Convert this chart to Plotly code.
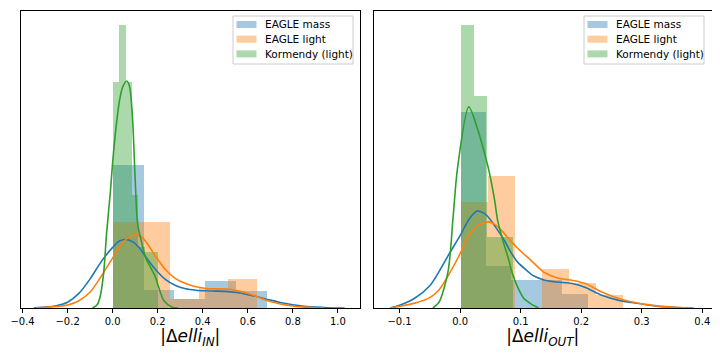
import numpy as np
import plotly.graph_objects as go
from plotly.subplots import make_subplots

# ---- histogram data (density) ----
# left panel: |delta elli_IN|
in_mass_edges = [0.0, 0.137, 0.274, 0.411, 0.548, 0.685]
in_mass_dens = [4.90, 0.61, 0.31, 0.92, 0.60]
in_light_edges = [0.0, 0.128, 0.256, 0.385, 0.513, 0.641]
in_light_dens = [2.96, 2.96, 0.31, 0.67, 0.98]
in_korm_edges = [0.0, 0.0286, 0.0571, 0.0857, 0.1143, 0.1429, 0.1714, 0.2]
in_korm_dens = [7.77, 9.71, 7.77, 3.87, 2.10, 1.92, 1.92]

# right panel: |delta elli_OUT|
out_mass_edges = [0.0, 0.042, 0.084, 0.126, 0.168, 0.21]
out_mass_dens = [14.1, 3.0, 1.99, 1.99, 1.04]
out_light_edges = [0.0, 0.0448, 0.0896, 0.134, 0.179, 0.224, 0.268]
out_light_dens = [7.63, 9.50, 0.0, 2.78, 1.83, 0.91]
out_korm_edges = [0.0, 0.0218, 0.0436, 0.0654, 0.0872]
out_korm_dens = [20.34, 15.23, 5.11, 5.11]

# ---- KDE curves ----
in_mass_kde_x = [-0.35, -0.3, -0.25, -0.2, -0.15, -0.1, -0.05, 0.0, 0.03, 0.06, 0.09, 0.12,
                 0.15, 0.19, 0.234, 0.279, 0.324, 0.37, 0.41, 0.45, 0.5, 0.55, 0.6, 0.65,
                 0.7, 0.75, 0.8, 0.85, 0.9, 0.95, 1.03]
in_mass_kde_y = [0.0, 0.03, 0.08, 0.2, 0.5, 1.0, 1.6, 2.08, 2.3, 2.35, 2.27, 2.05,
                 1.72, 1.32, 0.98, 0.77, 0.66, 0.61, 0.59, 0.58, 0.57, 0.53, 0.46, 0.37,
                 0.27, 0.18, 0.11, 0.06, 0.03, 0.01, 0.0]
in_light_kde_x = [-0.34, -0.3, -0.25, -0.2, -0.15, -0.1, -0.05, 0.0, 0.03, 0.06, 0.09,
                  0.11, 0.13, 0.16, 0.19, 0.234, 0.279, 0.324, 0.37, 0.41, 0.45, 0.5,
                  0.55, 0.6, 0.65, 0.7, 0.75, 0.8, 0.85, 0.9, 0.94]
in_light_kde_y = [0.0, 0.02, 0.05, 0.1, 0.25, 0.55, 1.1, 1.72, 2.08, 2.36, 2.49,
                  2.51, 2.43, 2.14, 1.78, 1.32, 1.01, 0.84, 0.73, 0.68, 0.66, 0.65,
                  0.60, 0.50, 0.36, 0.22, 0.13, 0.07, 0.03, 0.01, 0.0]
in_korm_kde_x = [-0.09, -0.07, -0.056, -0.04, -0.027, -0.01, 0.0, 0.015, 0.03, 0.045,
                 0.063, 0.075, 0.087, 0.1, 0.108, 0.115, 0.13, 0.145, 0.167, 0.19,
                 0.204, 0.227, 0.264, 0.29]
in_korm_kde_y = [0.0, 0.1, 0.38, 1.2, 2.56, 4.0, 5.0, 6.2, 7.1, 7.6,
                 7.79, 7.6, 6.68, 4.4, 3.13, 2.7, 2.21, 1.75, 1.41, 1.07,
                 0.72, 0.26, 0.03, 0.0]

out_mass_kde_x = [-0.115, -0.1, -0.075, -0.05, -0.035, -0.02, 0.0, 0.015, 0.028, 0.04,
                  0.051, 0.062, 0.073, 0.084, 0.095, 0.11, 0.122, 0.14, 0.16, 0.185,
                  0.207, 0.234, 0.262, 0.284, 0.31, 0.333, 0.36, 0.385]
out_mass_kde_y = [0.0, 0.19, 0.7, 1.6, 2.6, 3.75, 5.2, 6.4, 6.98, 6.8,
                  6.3, 5.6, 4.87, 4.0, 3.3, 2.7, 2.3, 2.0, 1.87, 1.76,
                  1.47, 0.91, 0.55, 0.39, 0.22, 0.1, 0.03, 0.0]
out_light_kde_x = [-0.116, -0.1, -0.075, -0.05, -0.035, -0.02, 0.0, 0.012, 0.024, 0.035,
                   0.047, 0.058, 0.068, 0.08, 0.095, 0.117, 0.139, 0.161, 0.185, 0.207,
                   0.234, 0.262, 0.284, 0.31, 0.333, 0.36, 0.386]
out_light_kde_y = [0.0, 0.12, 0.35, 0.75, 1.3, 2.3, 3.9, 5.0, 5.75, 6.05,
                   6.19, 6.0, 5.6, 5.0, 4.3, 3.43, 2.55, 2.15, 1.99, 1.76,
                   1.15, 0.68, 0.43, 0.24, 0.12, 0.04, 0.0]
out_korm_kde_x = [-0.045, -0.035, -0.02, -0.0115, -0.0044, 0.0143, 0.0295, 0.0405, 0.0475,
                  0.057, 0.062, 0.0705, 0.079, 0.087, 0.095, 0.105, 0.117, 0.13]
out_korm_kde_y = [0.0, 0.4, 2.6, 6.55, 10.0, 14.46, 12.78, 11.1, 9.9,
                  7.75, 6.3, 4.87, 3.67, 2.4, 1.5, 0.7, 0.3, 0.0]

names = ["EAGLE mass", "EAGLE light", "Kormendy (light)"]
colors = ["#1f77b4", "#ff7f0e", "#2ca02c"]

# the page body adds an 8px margin, so the figure is 8px smaller than the window
W, H = 712, 352
ML, MR, MT, MB = 13, 8, 3, 52
PW, PH = W - ML - MR, H - MT - MB
OFF = 8


def paper_x(px):
    return (px - OFF - ML) / PW


def paper_y(py):
    return (H - MB + OFF - py) / PH


fig = make_subplots(rows=1, cols=2, horizontal_spacing=14 / PW)

panels = [
    (1, [(in_mass_edges, in_mass_dens), (in_light_edges, in_light_dens),
         (in_korm_edges, in_korm_dens)],
     [(in_mass_kde_x, in_mass_kde_y), (in_light_kde_x, in_light_kde_y),
      (in_korm_kde_x, in_korm_kde_y)]),
    (2, [(out_mass_edges, out_mass_dens), (out_light_edges, out_light_dens),
         (out_korm_edges, out_korm_dens)],
     [(out_mass_kde_x, out_mass_kde_y), (out_light_kde_x, out_light_kde_y),
      (out_korm_kde_x, out_korm_kde_y)]),
]

for col, hists, kdes in panels:
    for (edges, dens), name, c in zip(hists, names, colors):
        edges = np.array(edges)
        fig.add_trace(go.Bar(
            x=edges[:-1], y=dens, width=np.diff(edges), offset=0,
            marker=dict(color=c, opacity=0.4, line=dict(width=0)),
            name=name, showlegend=False,
        ), row=1, col=col)
    for (kx, ky), c in zip(kdes, colors):
        fig.add_trace(go.Scatter(
            x=kx, y=ky, mode="lines",
            line=dict(color=c, width=1.6, shape="spline", smoothing=0.8),
            showlegend=False, hoverinfo="skip",
        ), row=1, col=col)

axis_style = dict(showline=True, linecolor="black", linewidth=1, mirror=True,
                  showgrid=False, zeroline=False)
fig.update_xaxes(ticks="outside", ticklen=3.5, tickwidth=0.8, tickcolor="black",
                 tickformat=".1f", tickfont=dict(size=10, color="black"),
                 title_font=dict(size=17, color="black"), title_standoff=4, **axis_style)
fig.update_yaxes(showticklabels=False, ticks="", **axis_style)

fig.update_xaxes(range=[-0.407, 1.096], dtick=0.2, tick0=0,
                 title_text="|Δ<i>elli</i><sub><i>IN</i></sub>|", row=1, col=1)
fig.update_xaxes(range=[-0.143, 0.416], dtick=0.1, tick0=0,
                 title_text="|Δ<i>elli</i><sub><i>OUT</i></sub>|", row=1, col=2)
fig.update_yaxes(range=[0, 9.71 * 1.05], row=1, col=1)
fig.update_yaxes(range=[0, 20.34 * 1.05], row=1, col=2)

# matplotlib-style legends, one per panel (box left edge in window pixels)
shapes, annotations = [], []
for box_left in (233, 584):
    shapes.append(dict(type="rect", xref="paper", yref="paper", layer="above",
                       x0=paper_x(box_left), x1=paper_x(box_left + 120),
                       y0=paper_y(64), y1=paper_y(16),
                       fillcolor="rgba(255,255,255,0.8)",
                       line=dict(color="#cccccc", width=1)))
    for i, (name, c) in enumerate(zip(names, colors)):
        yc = 24.5 + 14.7 * i
        shapes.append(dict(type="rect", xref="paper", yref="paper", layer="above",
                           x0=paper_x(box_left + 3.5), x1=paper_x(box_left + 23.5),
                           y0=paper_y(yc + 3.5), y1=paper_y(yc - 3.5),
                           fillcolor=c, opacity=0.4, line=dict(width=0)))
        annotations.append(dict(text=name, xref="paper", yref="paper",
                                x=paper_x(box_left + 30), y=paper_y(yc),
                                xanchor="left", yanchor="middle", showarrow=False,
                                font=dict(size=10.5, color="black")))

fig.update_layout(
    width=W, height=H,
    margin=dict(l=ML, r=MR, t=MT, b=MB),
    paper_bgcolor="white", plot_bgcolor="white",
    font=dict(family="DejaVu Sans", color="black"),
    barmode="overlay", bargap=0,
    shapes=shapes, annotations=annotations,
)

fig.write_html("out.html")
